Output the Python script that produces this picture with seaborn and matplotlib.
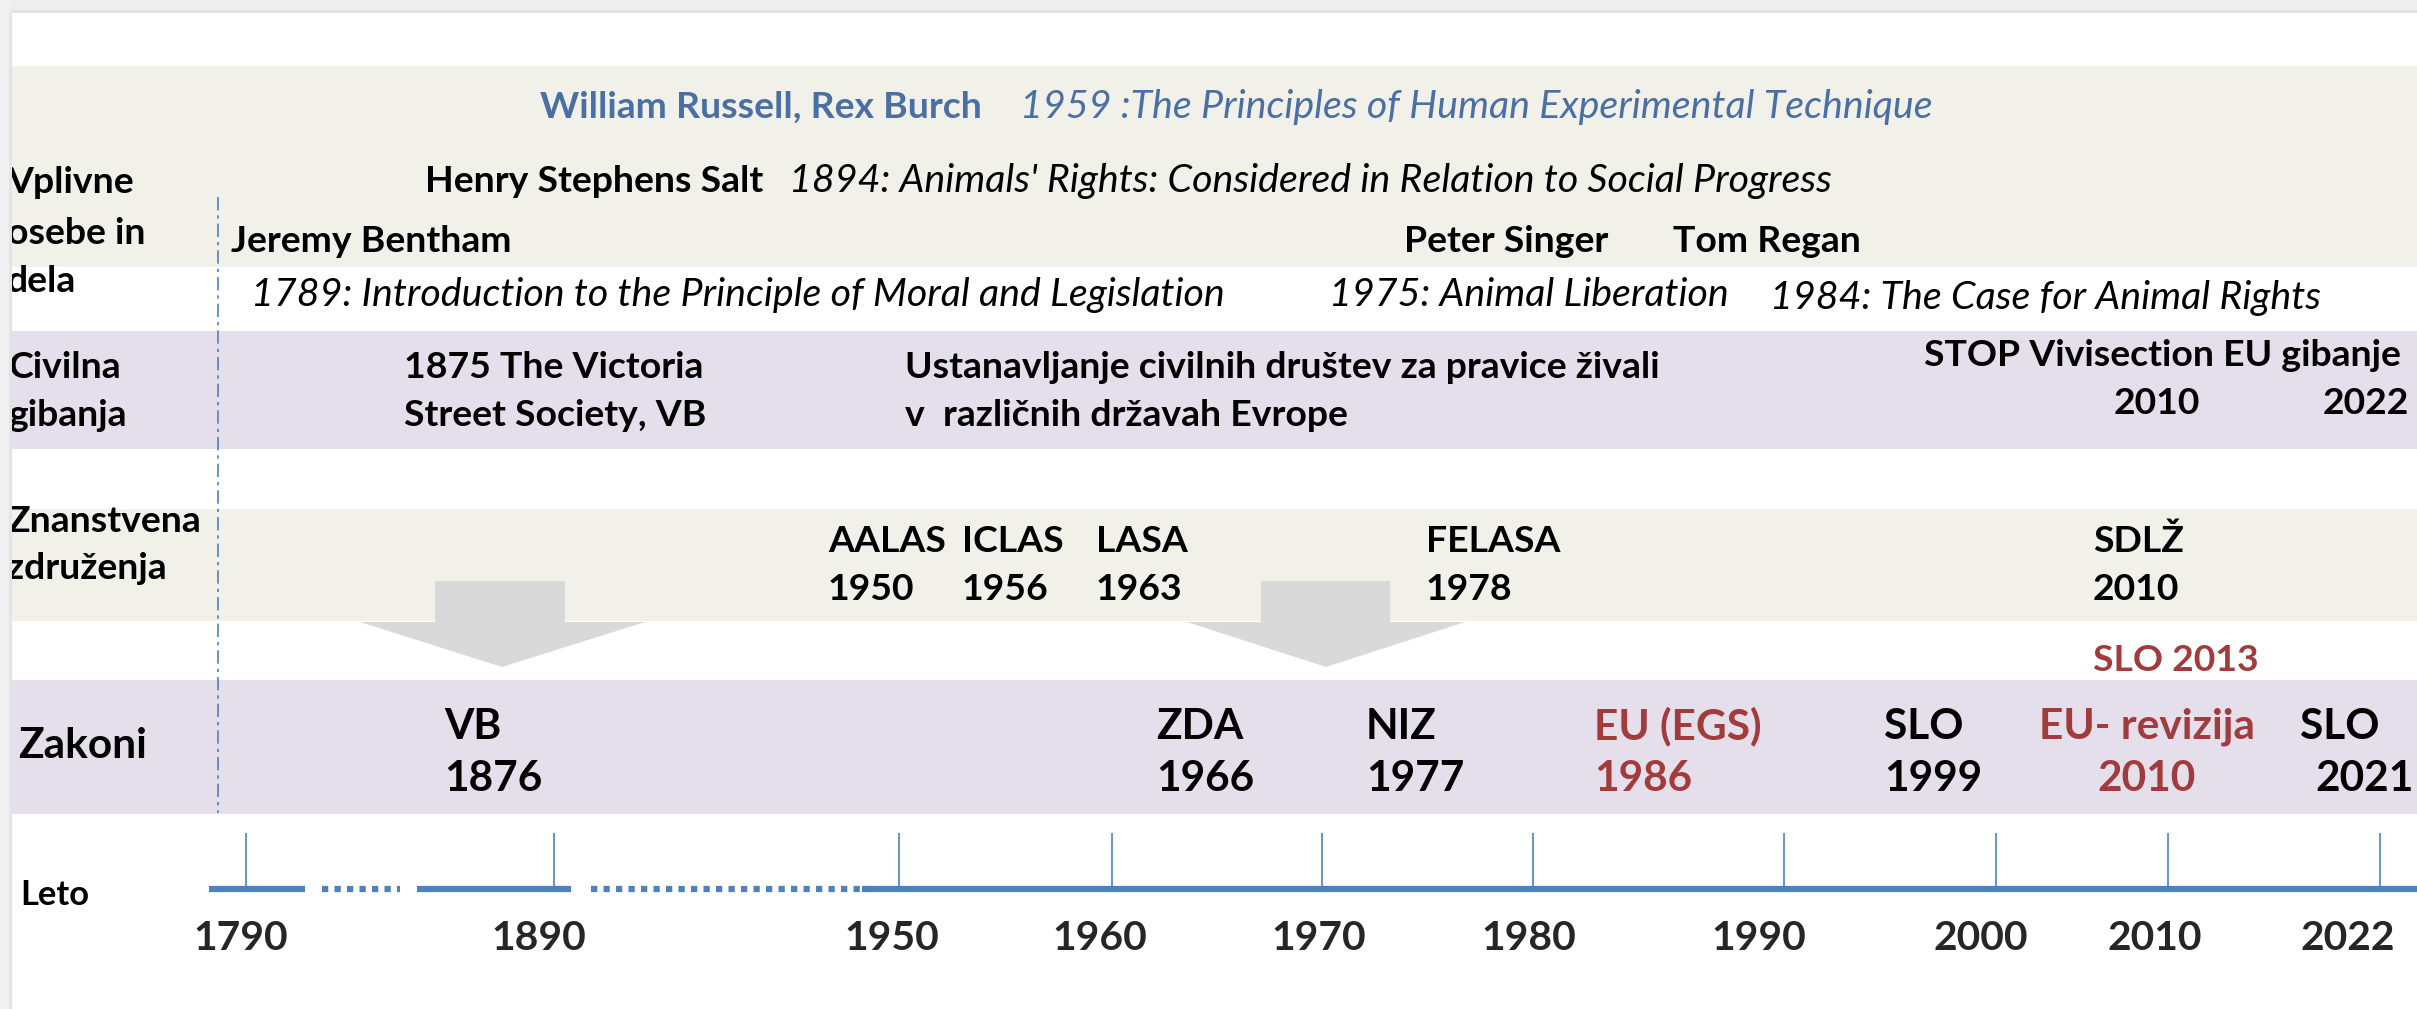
import numpy as np
import matplotlib
matplotlib.use("Agg")
import matplotlib.pyplot as plt
import seaborn as sns
from matplotlib.patches import Rectangle, Polygon

# ---------------- data ----------------
tick_years = [1790, 1890, 1950, 1960, 1970, 1980, 1990, 2000, 2010, 2022]
tick_labels = [str(y) for y in tick_years]

row_labels = [["Vplivne", "osebe in", "dela"], ["Civilna", "gibanja"],
              ["Znanstvena", "združenja"], ["Zakoni"], ["Leto"]]

people = ["William Russell, Rex Burch", "Henry Stephens Salt", "Jeremy Bentham",
          "Peter Singer", "Tom Regan"]
works = ["1959 :The Principles of Human Experimental Technique",
         "1894: Animals' Rights: Considered in Relation to Social Progress",
         "1789: Introduction to the Principle of Moral and Legislation",
         "1975: Animal Liberation", "1984: The Case for Animal Rights"]

civil_lines = [["1875 The Victoria", "Street Society, VB"],
               ["Ustanavljanje civilnih društev za pravice živali", "v  različnih državah Evrope"],
               ["STOP Vivisection EU gibanje"]]
stop_years = ["2010", "2022"]

assoc_names = ["AALAS", "ICLAS", "LASA", "FELASA", "SDLŽ"]
assoc_years = ["1950", "1956", "1963", "1978", "2010"]
slo_assoc = "SLO 2013"

law_places = ["VB", "ZDA", "NIZ", "EU (EGS)", "SLO", "EU- revizija", "SLO"]
law_years = ["1876", "1966", "1977", "1986", "1999", "2010", "2021"]
law_is_eu = [False, False, False, True, False, True, False]

# ---------------- layout (pixels of the 2417x1009 canvas) ----------------
W, H = 2417, 1009
tick_px = [246, 554, 899, 1112, 1322, 1533, 1784, 1996, 2168, 2380]
label_dx = [-5, -15, -7, -12, -3, -4, -25, -15, -13, -32]

BEIGE = "#F1F0E9"
LILAC = "#E5DFEC"
BLUE_T = "#4A6FA5"
RED_T = "#A23B3B"
LINE_B = "#4F81BD"
ARROW = "#D9D9D9"

sns.set_theme(style="white")
FAM = ["Lato", "DejaVu Sans"]
plt.rcParams["font.family"] = FAM

fig = plt.figure(figsize=(W / 100, H / 100), dpi=100)
ax = fig.add_axes([0, 0, 1, 1])
ax.set_xlim(0, W)
ax.set_ylim(H, 0)
ax.axis("off")
renderer = fig.canvas.get_renderer()


def fit(s, target, weight="bold", style="normal"):
    tt = ax.text(0, 0, s, fontsize=100, fontweight=weight, fontstyle=style, family=FAM)
    w = tt.get_window_extent(renderer=renderer).width
    tt.remove()
    return 100 * target / w


FS = 0.5 * (fit("Henry Stephens Salt", 335) +
            fit("Ustanavljanje civilnih društev za pravice živali", 765))
FS_IT = fit("1894: Animals' Rights: Considered in Relation to Social Progress", 1042,
            weight="normal", style="italic")
FS_LAW = fit("EU- revizija", 216)
FS_YEAR = fit("2000", 95)
FS_LETO = fit("Leto", 69)

# background bands
for y0, y1, c in [(66, 267, BEIGE), (331, 449, LILAC), (509, 621, BEIGE), (680, 814, LILAC)]:
    ax.add_patch(Rectangle((0, y0), W, y1 - y0, color=c, lw=0, zorder=0))

# frame shadows
ax.add_patch(Rectangle((0, 0), W, 12, color="#EEEEEE", lw=0, zorder=5))
ax.add_patch(Rectangle((0, 10), W, 3, color="#E2E2E2", lw=0, zorder=5))
ax.add_patch(Rectangle((0, 0), 11, H, color="#F0F0F0", lw=0, zorder=5))
ax.add_patch(Rectangle((9, 13), 3, H, color="#E4E4E4", lw=0, zorder=5))

# arrows
for sx0, sx1, hx0, hx1, tip in [(435, 565, 360, 645, 502), (1261, 1390, 1187, 1465, 1326)]:
    ax.add_patch(Polygon([(sx0, 581), (sx1, 581), (sx1, 622), (hx1, 622), (tip, 667),
                          (hx0, 622), (sx0, 622)], closed=True, color=ARROW, lw=0, zorder=1))

# vertical dash-dot separator
ax.plot([218, 218], [197, 813], color=LINE_B, lw=1.2, ls=(0, (8, 3, 2, 3)), zorder=2)


def t(x, y, s, size=None, weight="bold", style="normal", color="black", ha="left"):
    if size is None:
        size = FS
    ax.text(x, y, s, fontsize=size, fontweight=weight, fontstyle=style, color=color,
            ha=ha, va="baseline", family=FAM, zorder=3)


def it(x, y, s, color="black"):
    t(x, y, s, size=FS_IT, weight="normal", style="italic", color=color)


# row labels
for s, y in zip(row_labels[0], [193, 244, 292]):
    t(7, y, s)
for s, y in zip(row_labels[1], [378, 426]):
    t(8, y, s)
for s, y in zip(row_labels[2], [532, 579]):
    t(7, y, s)
t(18, 758, row_labels[3][0], size=FS_LAW)
t(20, 905, row_labels[4][0], size=FS_LETO)

# row 1: people & works
t(540, 118, people[0], color=BLUE_T)
it(1020, 118, works[0], color=BLUE_T)
t(425, 192, people[1])
it(789, 192, works[1])
t(231, 252, people[2])
t(1404, 252, people[3])
t(1673, 252, people[4])
it(251, 306, works[2])
it(1329, 306, works[3])
it(1770, 309, works[4])

# row 2: civil movements
for s, y in zip(civil_lines[0], [378, 426]):
    t(404, y, s)
for s, y in zip(civil_lines[1], [378, 426]):
    t(905, y, s)
t(1924, 366, civil_lines[2][0])
t(2157, 414, stop_years[0], ha="center")
t(2323, 414, stop_years[1])

# row 3: scientific associations
for name, yr, x in zip(assoc_names, assoc_years, [828, 962, 1096, 1426, 2093]):
    t(x, 552, name)
    t(x, 600, yr)
t(2093, 671, slo_assoc, color=RED_T)

# row 4: laws
for place, yr, eu, x in zip(law_places, law_years, law_is_eu,
                            [444, 1156, 1366, 1594, 1884, 2147, 2300]):
    col = RED_T if eu else "black"
    ha = "center" if x == 2147 else "left"
    t(x, 739, place, size=FS_LAW, color=col, ha=ha)
    t(x + (15 if x == 2300 else 0), 791, yr, size=FS_LAW, color=col, ha=ha)

# timeline axis line (broken)
for x0, x1 in [(209, 305), (417, 571), (862, W)]:
    ax.plot([x0, x1], [889, 889], color=LINE_B, lw=4.5, solid_capstyle="butt", zorder=2)
for x0, x1 in [(322, 400), (591, 869)]:
    ax.plot([x0, x1], [889, 889], color=LINE_B, lw=4.5, ls=(0, (1, 1)),
            dash_capstyle="butt", zorder=2)

# timeline ticks through a year scale
kn_years = np.array([1700.0] + tick_years + [2040.0])
kn_px = np.array([246 - 90 * 3.08] + tick_px + [2380 + 18 * 17.7])


def fwd(v):
    return np.interp(v, kn_years, kn_px)


def inv(p):
    return np.interp(p, kn_px, kn_years)


tl = fig.add_axes([0, 0, 1, 1], frameon=False)
tl.set_xscale("function", functions=(fwd, inv))
tl.set_xlim(inv(0), inv(W))
tl.set_ylim(H, 0)
tl.axis("off")
tl.vlines(tick_years, 833, 889, color=LINE_B, lw=1.2)
for yr, lab, dx in zip(tick_years, tick_labels, label_dx):
    tl.annotate(lab, (yr, 950), xytext=(dx, 0), textcoords="offset pixels",
                fontsize=FS_YEAR, fontweight="bold", ha="center", va="baseline",
                family=FAM)

fig.savefig("out.png", dpi=100)
